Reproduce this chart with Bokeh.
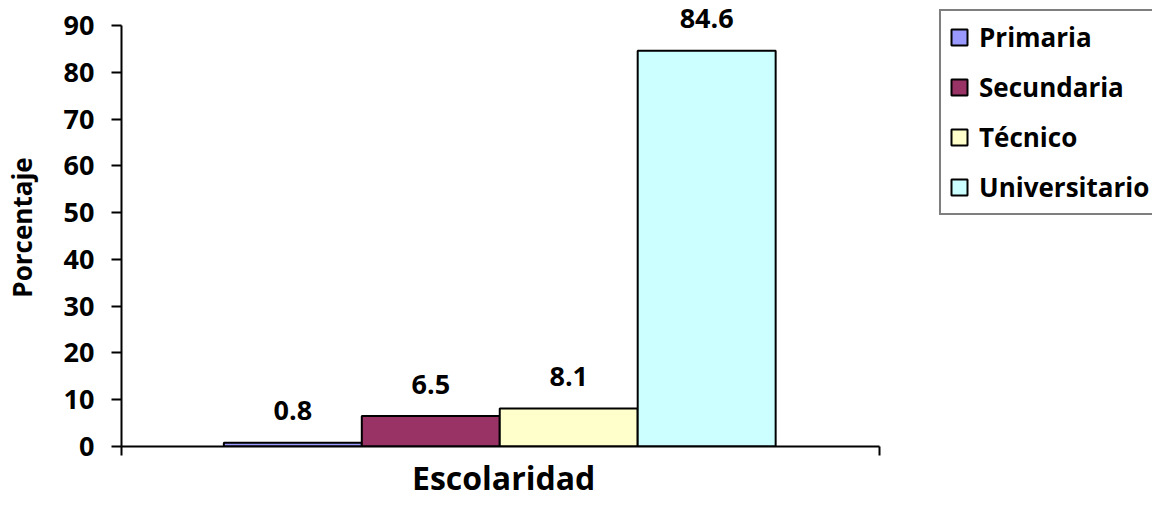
import numpy as np
from bokeh.plotting import figure
from bokeh.models import Range1d, FixedTicker, ColumnDataSource, Legend, LegendItem, Title
from bokeh.core.properties import value
from bokeh.embed import file_html
from bokeh.resources import INLINE

categories = ["Primaria", "Secundaria", "Técnico", "Universitario"]
percentages = [0.8, 6.5, 8.1, 84.6]
colors = ["#9999FF", "#993366", "#FFFFCC", "#CCFFFF"]
y_ticks = [0, 10, 20, 30, 40, 50, 60, 70, 80, 90]
x_title = "Escolaridad"
y_title = "Porcentaje"

FONT = "Open Sans"

xpos = np.arange(len(categories))
# axis extent of the category (bar edges -0.5 .. n-0.5 plus gaps)
x_start, x_end = -0.5 - 0.742, len(categories) - 0.5 + 0.75
y_min, y_max = 0, 90

# frame extends to the right canvas edge (room for the legend) and a bit above 90
PX_PER_X = 138.75
PX_PER_Y = 4.678
W, H = 1152, 520
LEFT, TOP, BOTTOM = 115, 8, 74
frame_w = W - LEFT
frame_h = H - TOP - BOTTOM
x_range = Range1d(x_start, x_start + frame_w / PX_PER_X)
y_range = Range1d(y_min, y_min + frame_h / PX_PER_Y)

p = figure(
    output_backend="svg", toolbar_location=None, title=None,
    width=W, height=H,
    min_border_left=LEFT, min_border_right=0,
    min_border_top=TOP, min_border_bottom=BOTTOM,
    x_range=x_range, y_range=y_range,
)
p.outline_line_color = None
p.xgrid.visible = False
p.ygrid.visible = False

items = []
for i, (cat, val, col) in enumerate(zip(categories, percentages, colors)):
    src = ColumnDataSource(dict(x=[xpos[i]], top=[val], label=[f"{val:.1f}"]))
    r = p.vbar(x="x", top="top", bottom=0, width=1.0, source=src,
               fill_color=col, line_color="black", line_width=2)
    items.append(LegendItem(label=cat, renderers=[r]))
    p.text(x="x", y="top", text="label", source=src,
           text_font=value(FONT), text_font_style="bold", text_font_size="27px",
           text_align="center", text_baseline="alphabetic", y_offset=-32,
           text_color="black")

# Y axis
ya = p.yaxis[0]
ya.ticker = FixedTicker(ticks=y_ticks)
ya.bounds = (y_min, y_max)
ya.axis_line_color = "black"
ya.axis_line_width = 2
ya.major_tick_line_color = "black"
ya.major_tick_line_width = 2
ya.major_tick_out = 10
ya.major_tick_in = 0
ya.minor_tick_line_color = None
ya.major_label_text_font = FONT
ya.major_label_text_font_style = "bold"
ya.major_label_text_font_size = "27px"
ya.major_label_text_color = "black"
ya.major_label_standoff = 17
ya.axis_label = y_title
ya.axis_label_text_font = FONT
ya.axis_label_text_font_style = "bold"
ya.axis_label_text_font_size = "26px"
ya.axis_label_text_color = "black"
ya.axis_label_standoff = 21

# X axis (only end ticks, no labels)
xa = p.xaxis[0]
xa.ticker = FixedTicker(ticks=[x_start, x_end])
xa.bounds = (x_start, x_end)
xa.axis_line_color = "black"
xa.axis_line_width = 2
xa.major_tick_line_color = "black"
xa.major_tick_line_width = 2
xa.major_tick_out = 9
xa.major_tick_in = 0
xa.minor_tick_line_color = None
xa.major_label_overrides = {x_start: "", x_end: ""}
xa.major_label_text_font_size = "1px"
xa.major_label_standoff = 20

# X title centred under the category axis (not the wider frame)
title_width_px = 181
x_title_offset = (x_end - x_start) * PX_PER_X / 2 - title_width_px / 2
p.add_layout(Title(text=x_title, align="left", offset=x_title_offset,
                   vertical_align="top", standoff=0,
                   text_font=FONT, text_font_style="bold", text_font_size="32px",
                   text_color="black"), "below")

legend = Legend(items=items, location=(818, 231))
legend.border_line_color = "black"
legend.border_line_width = 2
legend.background_fill_color = "white"
legend.background_fill_alpha = 1.0
legend.label_text_font = FONT
legend.label_text_font_style = "bold"
legend.label_text_font_size = "26px"
legend.label_text_color = "black"
legend.glyph_width = 20
legend.glyph_height = 20
legend.label_standoff = 10
legend.padding = 8
legend.spacing = 14
legend.margin = 0
p.add_layout(legend, "center")

open("out.html", "w").write(file_html(p, INLINE))
